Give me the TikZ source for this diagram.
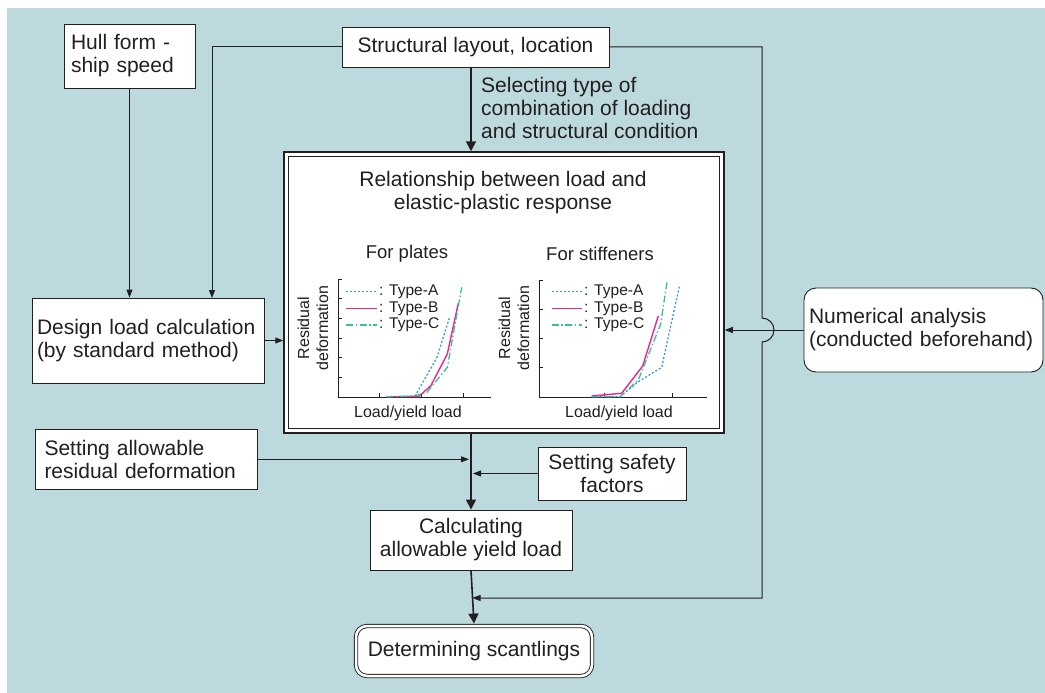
\documentclass[tikz,border=0pt]{standalone}
\usepackage{fontspec}
\setmainfont{Liberation Sans}
\usepackage{tikz}
\usetikzlibrary{arrows.meta}
\definecolor{bgblue}{RGB}{188,217,221}
\definecolor{ink}{RGB}{35,31,32}
\definecolor{typea}{RGB}{60,150,220}
\definecolor{typeb}{RGB}{232,40,140}
\definecolor{typec}{RGB}{60,190,155}
\newcommand\boxfont{\fontsize{21}{23}\selectfont}
\newcommand\subfont{\fontsize{18.5}{22}\selectfont}
\newcommand\axfont{\fontsize{16}{19}\selectfont}
\newcommand\legfont{\fontsize{15.5}{18}\selectfont}

\begin{document}
\begin{tikzpicture}[x=1pt,y=-1pt,
  box/.style={draw=ink,line width=0.9pt,fill=white,text=ink,font=\boxfont,inner sep=2pt},
  arr/.style={draw=ink,line width=1pt,-{Triangle[length=8pt,width=6pt]}},
  bigarr/.style={draw=ink,line width=1.6pt,-{Triangle[length=10pt,width=10pt]}},
  axis/.style={draw=ink,line width=0.8pt},
  curvea/.style={typea,line width=1.3pt,dash pattern=on 2pt off 2pt},
  curveb/.style={typeb,line width=1.4pt},
  curvec/.style={typec,line width=1.3pt,dash pattern=on 7pt off 2.5pt on 1.5pt off 2.5pt},
  lbl/.style={text=ink,inner sep=1pt}]
\useasboundingbox (0,0) rectangle (1045,693);
\fill[bgblue] (7,8) rectangle (1045,693);
% boxes
\node[box,minimum width=131pt,minimum height=64pt,inner xsep=7pt,text width=117pt,align=left]
  (hull) at (129.5,56) {Hull form -\\ship speed};
\node[box,minimum width=267pt,minimum height=40pt] (layout) at (475.5,47) {Structural layout, location};
\node[box,minimum width=232pt,minimum height=85pt,inner xsep=5pt,text width=222pt,align=left]
  (design) at (148,340.5) {Design load calculation\\(by standard method)};
\node[box,minimum width=222pt,minimum height=60pt,inner xsep=9pt,text width=204pt,align=left]
  (allow) at (146.5,459.3) {Setting allowable\\residual deformation};
\node[box,minimum width=148pt,minimum height=53pt,align=center]
  (safety) at (612,473.5) {Setting safety\\factors};
\node[box,minimum width=202pt,minimum height=60pt,align=center]
  (calc) at (471,540) {Calculating\\allowable yield load};
\node[box,rounded corners=12pt,minimum width=239pt,minimum height=84pt,inner xsep=5pt,text width=229pt,align=left]
  (numer) at (923.5,330) {Numerical analysis\\(conducted beforehand)};
\node[box,rounded corners=11pt,double=white,double distance=2.5pt,minimum width=236pt,minimum height=50pt]
  (scant) at (474,651) {Determining scantlings};
% main box, double frame
\node[box,line width=1.5pt,minimum width=440pt,minimum height=281pt] (main) at (504,292.5) {};
\draw[ink,line width=0.9pt] ([xshift=5pt,yshift=-5pt]main.north west) rectangle ([xshift=-5pt,yshift=5pt]main.south east);
\node[lbl,font=\boxfont,align=center] (title) at (503,192.5) {Relationship between load and\\elastic-plastic response};
\node[lbl,font=\subfont] (plates) at (407,254) {For plates};
\node[lbl,font=\subfont] (stiff) at (600,254) {For stiffeners};
% plot for plates
\draw[axis] (338,279) -- (338,397) -- (491,397);
\foreach \k in {0,...,5} \draw[axis] (338,279+19.67*\k) -- ++(4,0);
\foreach \x in {379,421,463} \draw[axis] (\x,397) -- ++(0,-4);
\draw[curvea] (386.7,396.7) -- (415,396) -- (436.7,358) -- (449.3,318.3);
\draw[curveb] (386.7,396.7) -- (418.3,396.7) -- (430.7,386) -- (447.3,354) -- (458.3,303.3);
\draw[curvec] (386.7,396.7) -- (413,396) -- (426.7,392.7) -- (447.3,367.3) -- (461.7,287.3);
\draw[curvea] (346,291.7) -- (377,291.7);
\draw[curveb] (346,308.3) -- (377,308.3);
\draw[curvec] (346,325) -- (377,325);
\node[lbl,font=\legfont,anchor=west] (pa) at (378,291.7) {: Type-A};
\node[lbl,font=\legfont,anchor=west] (pb) at (378,308.3) {: Type-B};
\node[lbl,font=\legfont,anchor=west] (pc) at (378,325) {: Type-C};
\node[lbl,font=\axfont,align=center,rotate=90] (pylab) at (313,328) {Residual\\deformation};
\node[lbl,font=\axfont] (pxlab) at (408,413) {Load/yield load};
% plot for stiffeners
\draw[axis] (539,280) -- (539,397) -- (707,397);
\foreach \k in {0,...,3} \draw[axis] (539,280+29.25*\k) -- ++(4,0);
\foreach \x in {604,672} \draw[axis] (\x,397) -- ++(0,-4);
\draw[curvea] (591.7,396.7) -- (620,396.7) -- (638.3,381.7) -- (661.7,367.3) -- (679.3,286.7);
\draw[curveb] (591.7,396) -- (621.7,393.3) -- (642.7,366) -- (658.3,316);
\draw[curvec] (591.7,396.7) -- (620,396.7) -- (638.3,380) -- (660.7,324) -- (667.3,280);
\draw[curvea] (551.7,291.7) -- (581.7,291.7);
\draw[curveb] (551.7,308.3) -- (581.7,308.3);
\draw[curvec] (551.7,325) -- (581.7,325);
\node[lbl,font=\legfont,anchor=west] (sa) at (583,291.7) {: Type-A};
\node[lbl,font=\legfont,anchor=west] (sb) at (583,308.3) {: Type-B};
\node[lbl,font=\legfont,anchor=west] (sc) at (583,325) {: Type-C};
\node[lbl,font=\axfont,align=center,rotate=90] (sylab) at (514,328) {Residual\\deformation};
\node[lbl,font=\axfont] (sxlab) at (619,413) {Load/yield load};
% connectors
\coordinate (dl) at (212,298);
\coordinate (rtop) at (762,47);
\coordinate (jtop) at (762,318);
\coordinate (rbot) at (762,598);
\draw[arr] (hull.south) -- (hull.south |- design.north);
\draw[arr] (layout.west) -| (dl);
\draw[bigarr] (layout.south -| calc.north) -- (calc.north |- main.north);
\node[lbl,font=\boxfont,anchor=west,align=left] (sel) at (480,108) {Selecting type of\\combination of loading\\and structural condition};
\draw[arr] (design.east) -- (design.east -| main.west);
\draw[arr] (numer.west) -- (numer.west -| main.east);
\draw[arr] (layout.east) -- (rtop) -- (jtop) arc[start angle=90,end angle=-90,radius=12pt]
  -- (rbot) -- ([xshift=1.5pt]rbot -| calc.south);
\draw[bigarr] (main.south -| calc.north) -- (calc.north);
\draw[arr] (allow.east) -- ([xshift=-2pt]allow.east -| calc.north);
\draw[arr] (safety.west) -- ([xshift=2pt]safety.west -| calc.north);
\draw[bigarr] (calc.south) -- ([yshift=2pt]scant.north);
\end{tikzpicture}
\end{document}
